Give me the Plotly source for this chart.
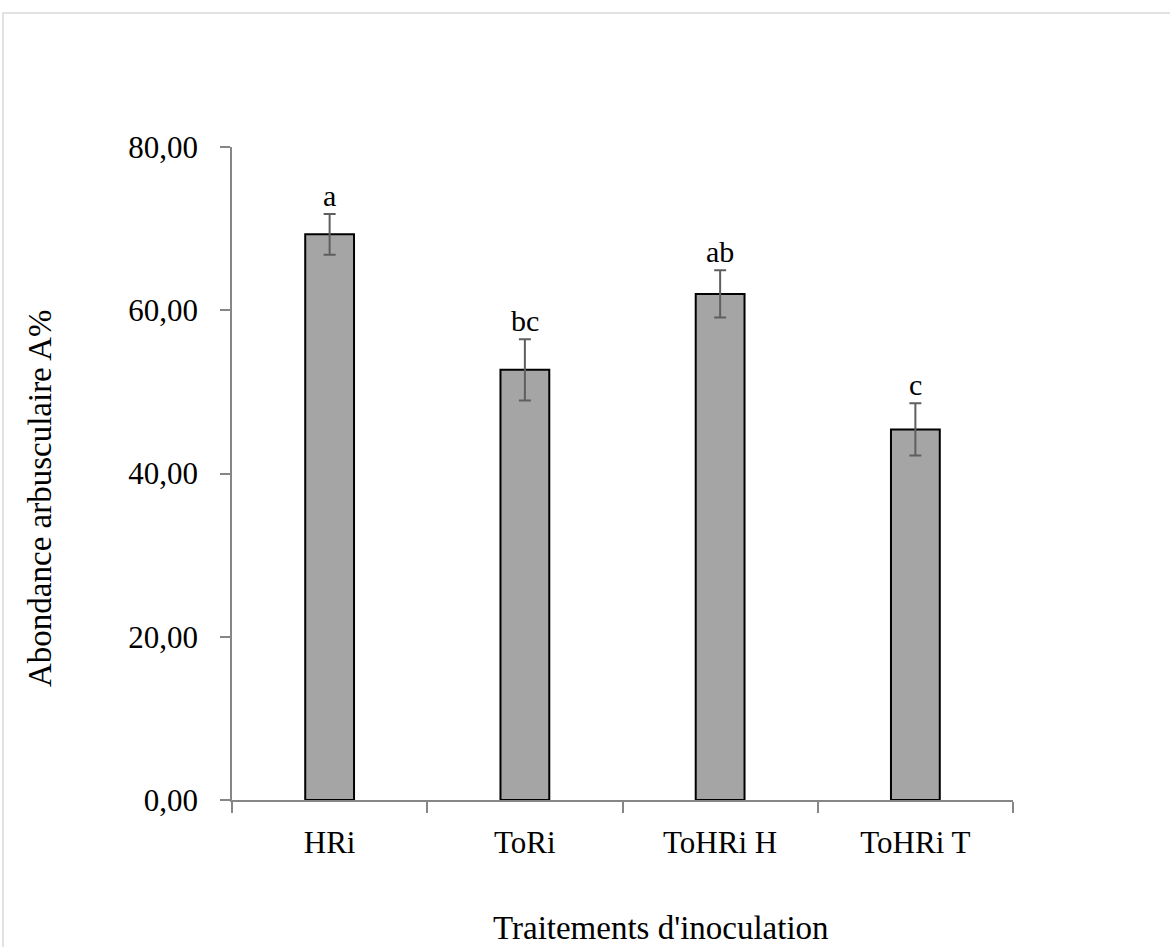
import plotly.graph_objects as go

# Abondance arbusculaire par traitement d'inoculation
categories = ["HRi", "ToRi", "ToHRi H", "ToHRi T"]
abondance = [69.3, 52.7, 62.0, 45.4]
erreur = [2.5, 3.75, 2.9, 3.2]
groupes = ["a", "bc", "ab", "c"]
y_ticks = [0, 20, 40, 60, 80]
y_tick_text = ["0,00", "20,00", "40,00", "60,00", "80,00"]

FONT = "Liberation Serif"
AXIS_GREY = "#868686"

fig = go.Figure()
fig.add_trace(go.Bar(
    x=categories,
    y=abondance,
    width=0.25,
    marker=dict(color="#a5a5a5", line=dict(color="#000000", width=2)),
    error_y=dict(type="data", array=erreur, visible=True,
                 color="#5f5f5f", thickness=2, width=6),
    showlegend=False,
))

# Lettres de significativité au-dessus des barres d'erreur
for cat, m, e, g in zip(categories, abondance, erreur, groupes):
    fig.add_annotation(x=cat, y=m + e, text=g, showarrow=False,
                       yanchor="bottom", yshift=0,
                       font=dict(family=FONT, size=30, color="#000000"))

# Titres des axes
fig.add_annotation(xref="paper", yref="paper", x=(661 - 232) / 781,
                   y=(800 - 928) / 653, text="Traitements d'inoculation",
                   showarrow=False, xanchor="center", yanchor="middle",
                   font=dict(family=FONT, size=33, color="#000000"))
fig.add_annotation(xref="paper", yref="paper", x=(40 - 232) / 781,
                   y=(800 - 498) / 653, text="Abondance arbusculaire A%",
                   showarrow=False, textangle=-90, xanchor="center", yanchor="middle",
                   font=dict(family=FONT, size=33, color="#000000"))

# Cadre de la zone de graphique
fig.add_shape(type="rect", xref="paper", yref="paper",
              x0=(3 - 232) / 781, x1=(1180 - 232) / 781,
              y0=(800 - 960) / 653, y1=(800 - 13) / 653,
              line=dict(color="#d9d9d9", width=1.5), fillcolor="rgba(0,0,0,0)",
              layer="below")

fig.update_layout(
    width=1170, height=947,
    margin=dict(l=232, r=157, t=147, b=147),
    paper_bgcolor="#ffffff", plot_bgcolor="#ffffff",
    font=dict(family=FONT, size=31, color="#000000"),
    bargap=0.75,
)
fig.update_xaxes(
    showline=True, linecolor=AXIS_GREY, linewidth=1.5,
    ticks="outside", tickson="boundaries", ticklen=11, tickcolor=AXIS_GREY, tickwidth=1.5,
    showgrid=False, zeroline=False,
    tickfont=dict(family=FONT, size=31, color="#000000"),
    ticklabelstandoff=14,
)
fig.update_yaxes(
    range=[0, 80], tickvals=y_ticks, ticktext=y_tick_text,
    showline=True, linecolor=AXIS_GREY, linewidth=1.5,
    ticks="outside", ticklen=10, tickcolor=AXIS_GREY, tickwidth=1.5,
    showgrid=False, zeroline=False,
    tickfont=dict(family=FONT, size=31, color="#000000"),
    ticklabelstandoff=16,
)

fig.write_html("out.html")
